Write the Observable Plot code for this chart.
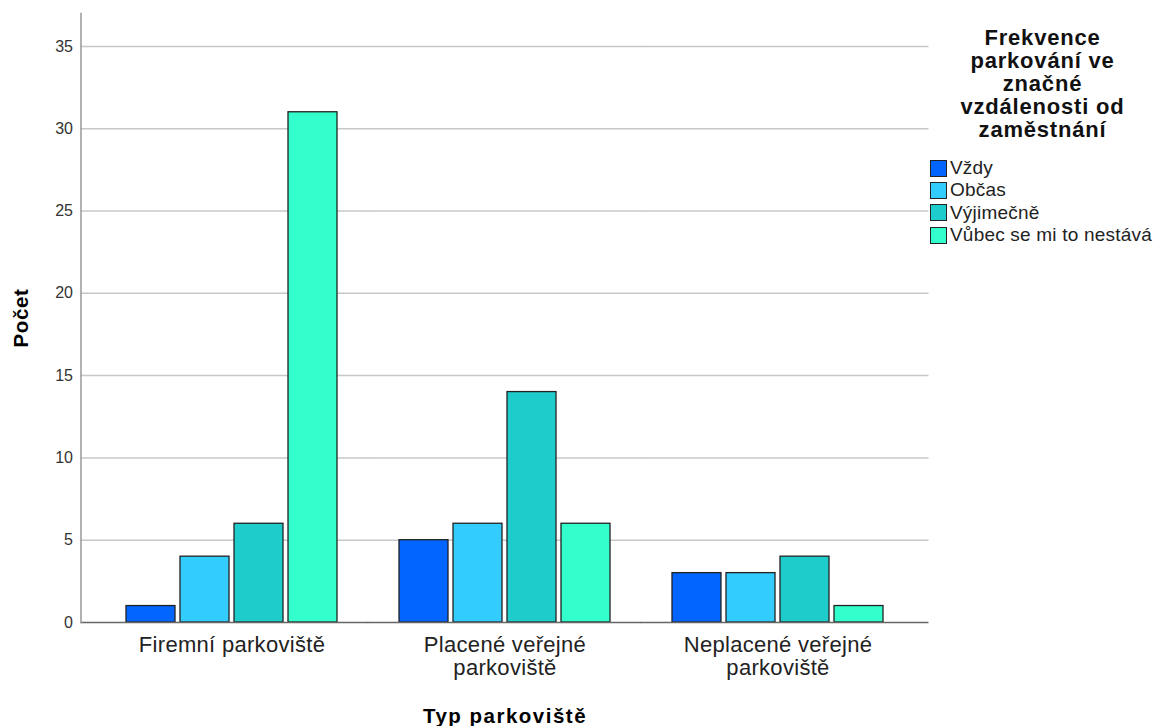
<!DOCTYPE html>
<html><head><meta charset="utf-8">
<script src="https://cdn.jsdelivr.net/npm/d3@7"></script>
<script src="https://cdn.jsdelivr.net/npm/@observablehq/plot@0.6"></script>
<style>
body{margin:0;background:#fff;}
#wrap{position:relative;width:1157px;height:726px;font-family:"Liberation Sans",Arial,sans-serif;background:#fff;overflow:hidden;}
#chart{position:absolute;left:0;top:0;}
#legend{position:absolute;left:928px;top:26px;width:229px;}
.lt{font-weight:bold;font-size:22px;letter-spacing:0.8px;line-height:23px;text-align:center;color:#111;}
.items{margin-top:16px;}
.li{display:flex;align-items:center;height:22.3px;font-size:19px;letter-spacing:0.2px;color:#222;white-space:nowrap;}
.sw{width:15px;height:15px;border:1.3px solid #222;margin-right:3px;margin-left:2px;flex:none;}
</style>
</head><body>
<div id="wrap"><div id="chart"></div><div id="legend"></div></div>
<script>
const groups = ["Firemní parkoviště", "Placené veřejné parkoviště", "Neplacené veřejné parkoviště"];
const groupLabels = ["Firemní parkoviště", "Placené veřejné\nparkoviště", "Neplacené veřejné\nparkoviště"];
const levels = ["Vždy", "Občas", "Výjimečně", "Vůbec se mi to nestává"];
const colors = ["#0066ff", "#33ccff", "#1ecccc", "#33ffcc"];
const vzdy = [1, 5, 3];
const obcas = [4, 6, 3];
const vyjimecne = [6, 14, 4];
const vubec = [31, 6, 1];
const yTicks = [0, 5, 10, 15, 20, 25, 30, 35];
const legendTitleLines = ["Frekvence", "parkování ve", "značné", "vzdálenosti od", "zaměstnání"];
const xTitle = "Typ parkoviště";
const yTitle = "Počet";

const series = [vzdy, obcas, vyjimecne, vubec];
const data = [];
groups.forEach((g, gi) => levels.forEach((l, li) => data.push({group: g, level: l, value: series[li][gi]})));

const outer = -45.5, inner = -31.3;
function spanRules(values, opts) {
  return groups.map((g, i) => Plot.ruleY(values, {
    y: d => d, fx: () => g,
    insetLeft: i === 0 ? outer : inner,
    insetRight: i === groups.length - 1 ? outer : inner,
    ...opts
  }));
}

const chart = Plot.plot({
  width: 930,
  height: 726,
  marginTop: 13,
  marginBottom: 104,
  marginLeft: 80,
  marginRight: 2,
  style: {fontFamily: '"Liberation Sans", Arial, sans-serif', background: "white"},
  fx: {domain: groups, paddingInner: 0.2285, paddingOuter: 0.1645},
  x: {domain: levels, paddingInner: 0.093, paddingOuter: 0, axis: null},
  y: {domain: [0, 37]},
  color: {domain: levels, range: colors},
  marks: [
    ...spanRules(yTicks.filter(d => d > 0), {stroke: "#c8c8c8", strokeWidth: 1.5}),
    Plot.barY(data, {fx: "group", x: "level", y: "value", fill: "level", stroke: "#222", strokeWidth: 1.3}),
    ...spanRules([0], {stroke: "#666", strokeWidth: 1.5}),
    Plot.frame({anchor: "left", stroke: "#999", strokeWidth: 1.5, facetAnchor: "left", dx: outer}),
    Plot.axisY({ticks: yTicks, tickSize: 0, tickPadding: 8, fontSize: 16, color: "#333", dx: outer,
      label: yTitle, labelAnchor: "center", labelArrow: "none", labelOffset: 113}),
    Plot.axisFx({anchor: "bottom", tickSize: 0, tickPadding: 13, fontSize: 22, lineHeight: 1.05, color: "#222",
      tickFormat: d => groupLabels[groups.indexOf(d)],
      label: xTitle, labelAnchor: "center", labelOffset: 100})
  ]
});
document.getElementById("chart").appendChild(chart);

// style axis titles bold
chart.querySelectorAll("g[aria-label='y-axis label'] text, g[aria-label='fx-axis label'] text").forEach(t => {
  t.setAttribute("font-weight", "bold");
  t.setAttribute("font-size", "20.5");
  t.setAttribute("letter-spacing", "1.5");
  t.setAttribute("fill", "#000");
});
chart.querySelectorAll("g[aria-label='y-axis label'] text").forEach(t => t.setAttribute("letter-spacing", "0.6"));
chart.querySelectorAll("g[aria-label='fx-axis tick label'] text").forEach(t => t.setAttribute("letter-spacing", "0.3"));

const legend = document.getElementById("legend");
const title = document.createElement("div");
title.className = "lt";
title.innerHTML = legendTitleLines.join("<br>");
legend.appendChild(title);
const items = document.createElement("div");
items.className = "items";
levels.forEach((l, i) => {
  const row = document.createElement("div");
  row.className = "li";
  const sw = document.createElement("div");
  sw.className = "sw";
  sw.style.background = colors[i];
  const tx = document.createElement("span");
  tx.textContent = l;
  row.appendChild(sw); row.appendChild(tx);
  items.appendChild(row);
});
legend.appendChild(items);
</script>
</body></html>
